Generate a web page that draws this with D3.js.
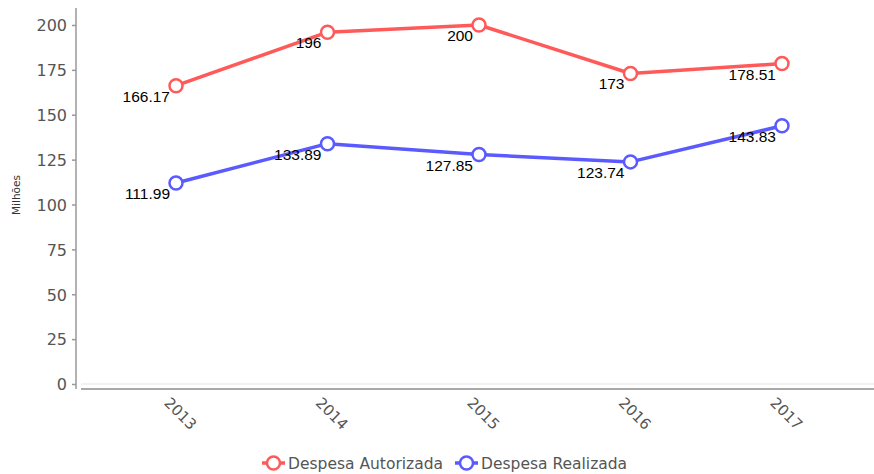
<!DOCTYPE html>
<html><head><meta charset="utf-8">
<script src="https://cdn.jsdelivr.net/npm/d3@7"></script>
<style>body{margin:0;background:#fff}svg{display:block}</style>
</head><body>
<svg id="c" width="874" height="474"></svg>
<script>
const years = ["2013","2014","2015","2016","2017"];
const autorizada = [166.17, 196, 200, 173, 178.51];
const realizada = [111.99, 133.89, 127.85, 123.74, 143.83];
const yTicks = [0,25,50,75,100,125,150,175,200];
const seriesNames = ["Despesa Autorizada","Despesa Realizada"];
const seriesColors = ["#ff5a5a","#5a5aff"];

const svg = d3.select("#c");
const x = d3.scalePoint().domain(years).range([176,782]);
const y = d3.scaleLinear().domain([0,200]).range([384,25]);

// zero gridline
svg.append("line").attr("x1",81).attr("x2",874).attr("y1",y(0)).attr("y2",y(0))
  .attr("stroke","#ececec").attr("stroke-width",1.5);
// x axis line
svg.append("line").attr("x1",81).attr("x2",874).attr("y1",389).attr("y2",389)
  .attr("stroke","#a8a8a8").attr("stroke-width",2);

// y axis
const yAxis = svg.append("g").attr("transform","translate(76,0)")
  .call(d3.axisLeft(y).tickValues(yTicks).tickSize(4).tickPadding(5));
yAxis.select(".domain").attr("d","M0,8V389").attr("stroke","#999").attr("stroke-width",1.5);
yAxis.selectAll(".tick line").attr("stroke","#999").attr("stroke-width",1.5);
yAxis.selectAll(".tick text").attr("fill","#555").attr("font-family","DejaVu Sans")
  .attr("font-size",16).attr("dy","0.36em");

// x tick labels
svg.append("g").selectAll("text").data(years).join("text")
  .attr("transform",d=>`translate(${x(d)-9},400) rotate(45)`)
  .attr("fill","#555").attr("font-family","DejaVu Sans").attr("font-size",15)
  .attr("dy","0.35em").text(d=>d);

// y label
svg.append("text").attr("transform","translate(20,195) rotate(-90)")
  .attr("text-anchor","middle").attr("font-family","DejaVu Sans").attr("font-size",10.5)
  .attr("fill","#333").text("Milhões");

const line = d3.line().x((d,i)=>x(years[i])).y(d=>y(d));
[autorizada, realizada].forEach((vals,si)=>{
  const g = svg.append("g");
  g.append("path").attr("d",line(vals)).attr("fill","none")
    .attr("stroke",seriesColors[si]).attr("stroke-width",3.5).attr("stroke-linejoin","round");
  g.selectAll("circle").data(vals).join("circle")
    .attr("cx",(d,i)=>x(years[i])).attr("cy",d=>y(d)).attr("r",6.5)
    .attr("fill","#fff").attr("stroke",seriesColors[si]).attr("stroke-width",2.5);
  g.selectAll("text").data(vals).join("text")
    .attr("x",(d,i)=>x(years[i])-6).attr("y",d=>y(d)+16)
    .attr("text-anchor","end").attr("font-family","Liberation Sans").attr("font-size",15.5)
    .attr("fill","#000").text(d=>d);
});

// legend
const legendX = [262, 455];
seriesNames.forEach((n,i)=>{
  const lg = svg.append("g").attr("transform",`translate(${legendX[i]},463)`);
  lg.append("line").attr("x1",0).attr("x2",23).attr("y1",0).attr("y2",0)
    .attr("stroke",seriesColors[i]).attr("stroke-width",3.5);
  lg.append("circle").attr("cx",11.5).attr("cy",0).attr("r",6.5).attr("fill","#fff")
    .attr("stroke",seriesColors[i]).attr("stroke-width",2.5);
  lg.append("text").attr("x",26).attr("y",0).attr("dy","0.36em")
    .attr("font-family","DejaVu Sans").attr("font-size",15.5).attr("fill","#555").text(n);
});
</script>
</body></html>
